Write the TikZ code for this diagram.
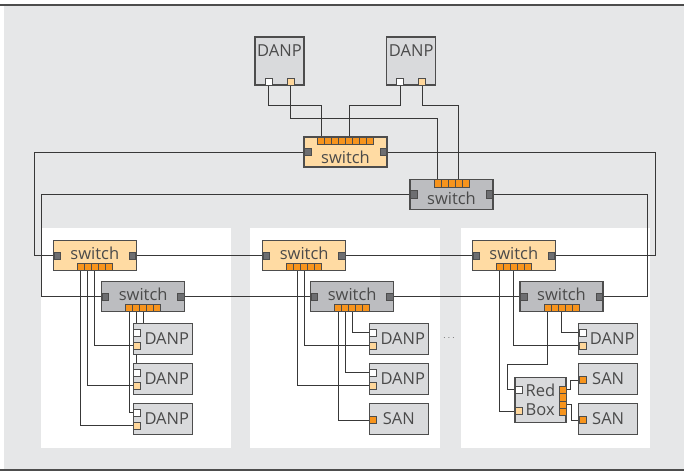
\documentclass[tikz,border=0pt]{standalone}
\usepackage{fontspec}
\setmainfont{Open Sans}
\usetikzlibrary{calc}

\definecolor{bgGrau}{HTML}{E6E7E8}
\definecolor{randGrau}{HTML}{4D4D4D}
\definecolor{swOrange}{HTML}{FFDBA3}
\definecolor{swGrau}{HTML}{BCBDC0}
\definecolor{boxGrau}{HTML}{D9DADC}
\definecolor{portGrau}{HTML}{6D6E71}
\definecolor{portOrange}{HTML}{F7941D}
\definecolor{portHell}{HTML}{FFD79B}
\definecolor{textGrau}{HTML}{4A4A4A}

\pgfdeclarelayer{hinten}
\pgfdeclarelayer{kabel}
\pgfsetlayers{hinten,kabel,main}

\tikzset{
  rahmen/.style={draw=randGrau, line width=1.1pt, inner sep=0pt, outer sep=0pt},
  switchbox/.style={rahmen, minimum width=83pt, minimum height=30pt, anchor=north west},
  swtext/.style={text=textGrau, inner sep=0pt},
  seitenport/.style={rahmen, line width=0.8pt, fill=portGrau, minimum width=6.5pt, minimum height=7.5pt},
  leiste/.style={rahmen, line width=0.8pt, fill=portOrange, minimum width=7pt, minimum height=7.5pt, anchor=north west},
  geraet/.style={rahmen, fill=boxGrau, text=textGrau, anchor=north west},
  danp/.style={minimum width=59pt, minimum height=31pt, execute at begin node={\hspace*{8pt}}},
  aport/.style={rahmen, line width=0.8pt, fill=white, minimum size=7pt},
  bport/.style={aport, fill=portHell},
  sanport/.style={aport, fill=portOrange},
  leitung/.style={draw=black!78, line width=1pt},
}

\begin{document}
\begin{tikzpicture}[x=1pt, y=-1pt, font=\fontsize{16.5}{19}\selectfont]
	\useasboundingbox (0,0) rectangle (684,472);
	% Hintergrund
	\begin{pgfonlayer}{hinten}
		\fill[bgGrau] (3.5,6) rectangle (684,469);
		\draw[randGrau, line width=2pt] (0,5) -- (684,5);
		\draw[randGrau, line width=2pt] (0,470) -- (684,470);
		\foreach \x/\b in {40.5/231, 250/440, 461/650} {
			\fill[white] (\x,228) rectangle (\b,448);
		}
	\end{pgfonlayer}
	% Switches
	\foreach \nm/\x/\y/\farbe/\n/\sy/\ty in {
		T1/304/137/swOrange/8/0/5,
		T2/410/179.5/swGrau/5/0/3.8,
		P1o/53.3/240.7/swOrange/5/22.5/-2.3,
		P1g/101.7/281.7/swGrau/5/22.5/-2,
		P2o/262.7/240.7/swOrange/5/22.5/-2.3,
		P2g/310.7/281.7/swGrau/5/22.5/-2,
		P3o/472.3/240.7/swOrange/5/22.5/-2.3,
		P3g/520/281.7/swGrau/5/22.5/-2
	} {
		\node[switchbox, fill=\farbe] (\nm) at (\x,\y) {};
		\node[swtext] (\nm-t) at ($(\nm.center)+(0,\ty)$) {switch};
		\node[seitenport, anchor=west] (\nm-w) at ($(\nm.west)+(0.6,0)$) {};
		\node[seitenport, anchor=east] (\nm-e) at ($(\nm.east)+(-0.6,0)$) {};
		\pgfmathsetmacro\sx{41.5-3.5*\n}
		\foreach \i in {1,...,\n} {
			\node[leiste] (\nm-p\i) at ($(\nm.north west)+(\sx+7*\i-7,\sy)$) {};
		}
	}
	% DANP oben
	\foreach \nm/\x in {d1/255, d2/386.7} {
		\node[geraet, minimum width=49pt, minimum height=48pt] (\nm) at (\x,37) {};
		\node[swtext] (\nm-t) at ($(\nm.north)+(0,14)$) {DANP};
		\node[aport, anchor=south west] (\nm-a) at ($(\nm.south west)+(10,0)$) {};
		\node[bport, anchor=south west] (\nm-b) at ($(\nm.south west)+(32,0)$) {};
	}
	% DANP in den Feldern
	\foreach \nm/\x/\y in {q11/133.3/323.3, q12/133.3/363.3, q13/133.3/403.3,
		q21/369.3/323.3, q22/369.3/363.3, q31/578.7/323.3} {
		\node[geraet, danp] (\nm) at (\x,\y) {DANP};
		\node[aport, anchor=north west] (\nm-a) at ($(\nm.north west)+(0.4,5.7)$) {};
		\node[bport, anchor=north west] (\nm-b) at ($(\nm.north west)+(0.4,19)$) {};
	}
	% SAN
	\foreach \nm/\x/\y in {s21/369.3/403.3, s31/578.7/363.3, s32/578.7/403.3} {
		\node[geraet, minimum width=59pt, minimum height=31pt] (\nm) at (\x,\y) {SAN};
		\node[sanport, anchor=west] (\nm-p) at ($(\nm.west)+(0.4,1.5)$) {};
	}
	% RedBox
	\node[geraet, minimum width=51pt, minimum height=45pt, align=left] (rb) at (515,377.7) {Red\\Box};
	\node[aport, anchor=north west] (rb-a) at ($(rb.north west)+(0.3,8.3)$) {};
	\node[bport, anchor=north west] (rb-b) at ($(rb.north west)+(0.3,30)$) {};
	\foreach \i in {1,...,4} {
		\node[sanport, minimum height=7.3pt, anchor=north east] (rb-p\i) at ($(rb.north east)+(0,1.3+7.3*\i)$) {};
	}
	\node[text=black!60, font=\fontsize{10}{10}\selectfont] (punkte) at (449,338) {$\cdots$};
	% Leitungen
	\begin{pgfonlayer}{kabel}
		\draw[leitung] (d1-a.south) -- ++(0,20) -| (T1-p1.north);
		\draw[leitung] (d1-b.south) -- ++(0,33.3) -| (T2-p1.north);
		\draw[leitung] (d2-a.south) -- ++(0,20) -| (T1-p5.north);
		\draw[leitung] (d2-b.south) -- ++(0,20) -| (T2-p4.north);
		% Ring
		\draw[leitung] (T1-w.west) -- ++(-270,0) |- (P1o-w.west);
		\draw[leitung] (T1-e.east) -- ++(269.5,0) |- (P3o-e.east);
		\draw[leitung] (T2-w.west) -- ++(-369.5,0) |- (P1g-w.west);
		\draw[leitung] (T2-e.east) -- ++(155.5,0) |- (P3g-e.east);
		\draw[leitung] (P1o-e.east) -- (P2o-w.west);
		\draw[leitung] (P2o-e.east) -- (P3o-w.west);
		\draw[leitung] (P1g-e.east) -- (P2g-w.west);
		\draw[leitung] (P2g-e.east) -- (P3g-w.west);
		% Feld 1
		\foreach \i/\q in {3/q11, 2/q12, 1/q13} {
			\draw[leitung] (P1o-p\i.south) |- (\q-b.west);
			\draw[leitung] (P1g-p\i.south) |- (\q-a.west);
		}
		% Feld 2
		\draw[leitung] (P2o-p3.south) |- (q21-b.west);
		\draw[leitung] (P2o-p2.south) |- (q22-b.west);
		\draw[leitung] (P2g-p3.south) |- (q21-a.west);
		\draw[leitung] (P2g-p2.south) |- (q22-a.west);
		\draw[leitung] (P2g-p1.south) |- (s21-p.west);
		% Feld 3
		\draw[leitung] (P3o-p3.south) |- (q31-b.west);
		\draw[leitung] (P3o-p1.south) |- (rb-b.west);
		\draw[leitung] (P3g-p3.south) |- (q31-a.west);
		\draw[leitung] (P3g-p1.south) |- ++(-40.2,52.3) |- (rb-a.west);
		\draw[leitung] (rb-p1.east) -- ++(4.7,0) |- (s31-p.west);
		\draw[leitung] (rb-p3.east) -- ++(5.7,0) |- (s32-p.west);
	\end{pgfonlayer}
\end{tikzpicture}
\end{document}
